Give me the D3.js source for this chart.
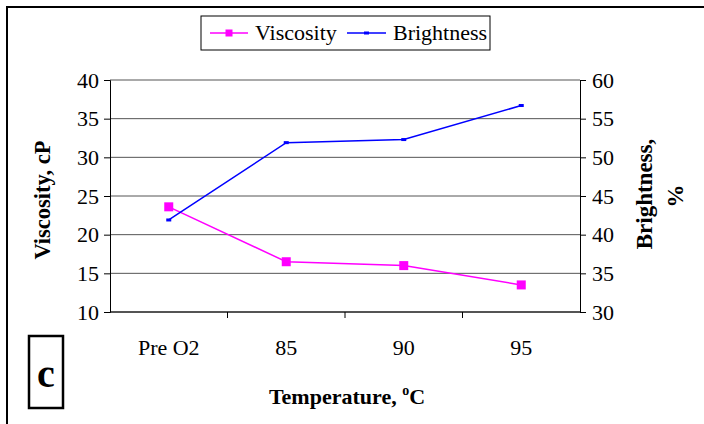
<!DOCTYPE html>
<html>
<head>
<meta charset="utf-8">
<script src="https://cdn.jsdelivr.net/npm/d3@7"></script>
<style>
  body { margin: 0; background: #fff; }
</style>
</head>
<body>
<svg width="704" height="424"></svg>
<script>
// data
let categories = ["Pre O2", "85", "90", "95"];
let viscosity = [23.6, 16.5, 16.0, 13.5];
let brightness = [41.9, 51.9, 52.3, 56.7];
let leftTicks = [10, 15, 20, 25, 30, 35, 40];
let rightTicks = [30, 35, 40, 45, 50, 55, 60];

const FONT = '"Liberation Serif", "Times New Roman", serif';

let svg = d3.select('svg');
let margin = { top: 80, bottom: 112, left: 110, right: 124 };
let width = +svg.attr('width');
let height = +svg.attr('height');

// outer frame (only top and left edges show)
svg.append('path')
    .attr('d', 'M7,424V7H704')
    .attr('fill', 'none')
    .attr('stroke', '#000')
    .attr('stroke-width', 2);

let x = d3.scaleBand()
    .domain(categories)
    .range([margin.left, width - margin.right]);
let yL = d3.scaleLinear().domain([10, 40]).range([height - margin.bottom, margin.top]);
let yR = d3.scaleLinear().domain([30, 60]).range([height - margin.bottom, margin.top]);

// gridlines
svg.append('g')
    .selectAll('line')
    .data(leftTicks)
    .join('line')
        .attr('x1', margin.left)
        .attr('x2', width - margin.right)
        .attr('y1', d => yL(d))
        .attr('y2', d => yL(d))
        .attr('stroke', '#555')
        .attr('stroke-width', 1);

let axisLeft = svg.append('g')
    .attr('transform', `translate(${margin.left},0)`)
    .call(d3.axisLeft(yL).tickValues(leftTicks).tickSize(6).tickPadding(5));
let axisRight = svg.append('g')
    .attr('transform', `translate(${width - margin.right},0)`)
    .call(d3.axisRight(yR).tickValues(rightTicks).tickSize(6).tickPadding(6));

// category axis: ticks sit between categories
let bounds = categories.map(c => x(c)).concat([x.range()[1]]);
let axisBottom = svg.append('g');
axisBottom.append('line')
    .attr('x1', margin.left).attr('x2', width - margin.right)
    .attr('y1', yL(10)).attr('y2', yL(10))
    .attr('stroke', '#000');
axisBottom.selectAll('line.tk')
    .data(bounds.slice(1, -1))
    .join('line')
        .attr('class', 'tk')
        .attr('x1', d => d).attr('x2', d => d)
        .attr('y1', yL(10)).attr('y2', yL(10) + 6)
        .attr('stroke', '#000');
axisBottom.selectAll('text')
    .data(categories)
    .join('text')
        .attr('x', d => x(d) + x.bandwidth() / 2)
        .attr('y', 355)
        .attr('text-anchor', 'middle')
        .style('font-size', '22px')
        .text(d => d);

[axisLeft, axisRight].forEach(a => {
    a.attr('font-family', null).attr('font-size', null);
    a.select('.domain').attr('stroke', '#000');
    a.selectAll('.tick line').attr('stroke', '#000');
    a.selectAll('.tick text')
        .style('font-size', '22px')
        .attr('fill', '#000');
});

let cx = d => x(d) + x.bandwidth() / 2;

// viscosity series
svg.append('path')
    .datum(viscosity)
    .attr('fill', 'none')
    .attr('stroke', '#ff00ff')
    .attr('stroke-width', 1.5)
    .attr('d', d3.line().x((d, i) => cx(categories[i])).y(d => yL(d)));
svg.append('g')
    .selectAll('rect')
    .data(viscosity)
    .join('rect')
        .attr('x', (d, i) => cx(categories[i]) - 4.5)
        .attr('y', d => yL(d) - 4.5)
        .attr('width', 9)
        .attr('height', 9)
        .attr('fill', '#ff00ff');

// brightness series
svg.append('path')
    .datum(brightness)
    .attr('fill', 'none')
    .attr('stroke', '#0000ff')
    .attr('stroke-width', 1.5)
    .attr('d', d3.line().x((d, i) => cx(categories[i])).y(d => yR(d)));
svg.append('g')
    .selectAll('rect')
    .data(brightness)
    .join('rect')
        .attr('x', (d, i) => cx(categories[i]) - 2.5)
        .attr('y', d => yR(d) - 1.5)
        .attr('width', 5)
        .attr('height', 3)
        .attr('fill', '#0000ff');

// axis titles
svg.append('text')
    .attr('transform', 'translate(50,200) rotate(-90)')
    .attr('text-anchor', 'middle')
    .style('font-size', '22.5px')
    .style('font-weight', 'bold')
    .text('Viscosity, cP');
svg.append('text')
    .attr('transform', 'translate(652,194) rotate(-90)')
    .attr('text-anchor', 'middle')
    .style('font-size', '23px')
    .style('font-weight', 'bold')
    .text('Brightness,');
svg.append('text')
    .attr('transform', 'translate(683,196) rotate(-90)')
    .attr('text-anchor', 'middle')
    .style('font-size', '23px')
    .style('font-weight', 'bold')
    .text('%');

let xt = svg.append('text')
    .attr('x', 347)
    .attr('y', 404)
    .attr('text-anchor', 'middle')
    .style('font-size', '22px')
    .style('font-weight', 'bold');
xt.append('tspan').text('Temperature, ');
xt.append('tspan').style('font-size', '14px').attr('dy', -9).text('o');
xt.append('tspan').attr('dy', 9).text('C');

// panel label
svg.append('rect')
    .attr('x', 29).attr('y', 336)
    .attr('width', 34).attr('height', 72)
    .attr('fill', 'none')
    .attr('stroke', '#000')
    .attr('stroke-width', 2.5);
svg.append('text')
    .attr('x', 46).attr('y', 387)
    .attr('text-anchor', 'middle')
    .style('font-size', '40px')
    .style('font-weight', 'bold')
    .text('c');

// legend
let legend = svg.append('g');
legend.append('rect')
    .attr('x', 201).attr('y', 16)
    .attr('width', 289).attr('height', 34)
    .attr('fill', '#fff')
    .attr('stroke', '#000');
legend.append('line')
    .attr('x1', 210).attr('x2', 248).attr('y1', 33).attr('y2', 33)
    .attr('stroke', '#ff00ff').attr('stroke-width', 1.5);
legend.append('rect')
    .attr('x', 225.5).attr('y', 29.5).attr('width', 7).attr('height', 7)
    .attr('fill', '#ff00ff');
legend.append('text')
    .attr('x', 255).attr('y', 40)
    .style('font-size', '22px')
    .text('Viscosity');
legend.append('line')
    .attr('x1', 347).attr('x2', 386).attr('y1', 33).attr('y2', 33)
    .attr('stroke', '#0000ff').attr('stroke-width', 1.5);
legend.append('rect')
    .attr('x', 364).attr('y', 31.5).attr('width', 5).attr('height', 3)
    .attr('fill', '#0000ff');
legend.append('text')
    .attr('x', 393).attr('y', 40)
    .style('font-size', '22px')
    .text('Brightness');

// every text in the serif face
svg.selectAll('text').style('font-family', FONT);
</script>
</body>
</html>
